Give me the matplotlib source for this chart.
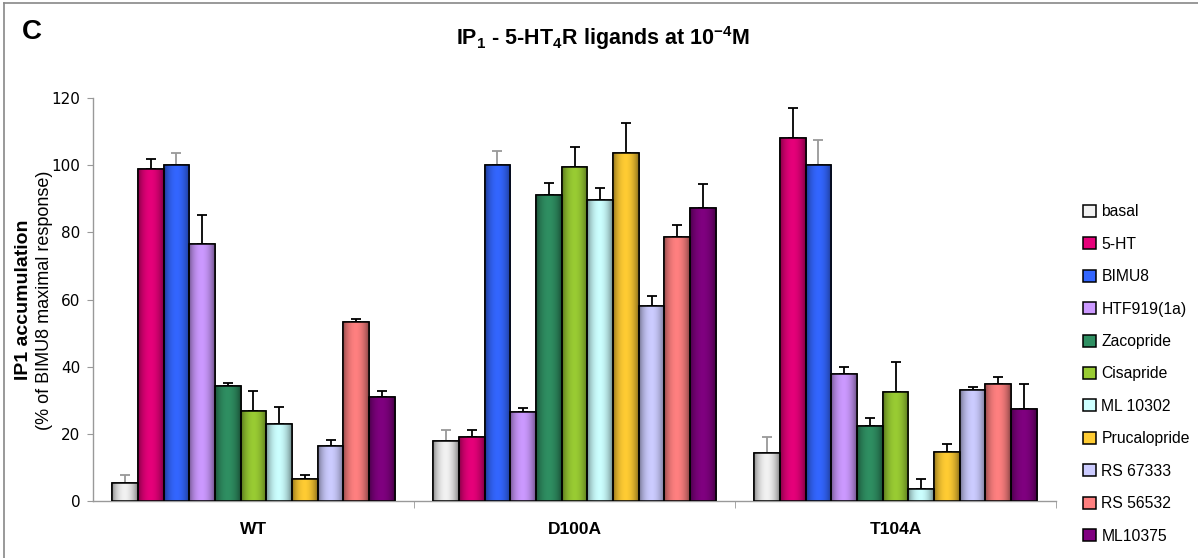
import matplotlib
matplotlib.use("Agg")
import matplotlib.pyplot as plt
import matplotlib.colors as mcolors
from matplotlib.lines import Line2D
import numpy as np

# ==========================================
# ================ DONNÉES =================
# ==========================================
groups = ["WT", "D100A", "T104A"]
ligands = ["basal", "5-HT", "BIMU8", "HTF919(1a)", "Zacopride", "Cisapride",
           "ML 10302", "Prucalopride", "RS 67333", "RS 56532", "ML10375"]
colors = ["#f2f2f2", "#e6007a", "#3366ff", "#cc99ff", "#2f8f62", "#99cc33",
          "#ccffff", "#ffcc33", "#ccccff", "#ff8080", "#800080"]
err_colors = ["#999999", "black", "#999999", "black", "black", "black",
              "black", "black", "black", "black", "black"]

# valeurs par ligand : [WT, D100A, T104A]
values = [
    [5.5, 18.0, 14.5],
    [99.0, 19.2, 108.0],
    [100.0, 100.0, 100.0],
    [76.7, 26.6, 37.9],
    [34.2, 91.1, 22.4],
    [26.8, 99.4, 32.5],
    [23.0, 89.8, 3.6],
    [6.8, 103.5, 14.7],
    [16.6, 58.0, 33.3],
    [53.4, 78.6, 34.9],
    [31.0, 87.3, 27.5],
]
errors = [
    [2.4, 3.2, 4.8],
    [3.0, 2.0, 9.1],
    [3.5, 4.3, 7.4],
    [8.5, 1.2, 2.1],
    [1.0, 3.7, 2.5],
    [6.0, 5.9, 9.0],
    [5.2, 3.5, 3.0],
    [1.1, 9.0, 2.4],
    [1.6, 3.0, 0.7],
    [0.9, 3.7, 2.0],
    [2.0, 7.0, 7.4],
]

# ==========================================
# ================ FIGURE ==================
# ==========================================
plt.rcParams['font.family'] = ['Liberation Sans', 'DejaVu Sans']
plt.rcParams['mathtext.fontset'] = 'custom'
plt.rcParams['mathtext.rm'] = 'Liberation Sans:bold'
plt.rcParams['mathtext.bf'] = 'Liberation Sans:bold'

fig = plt.figure(figsize=(11.98, 5.58), dpi=100)
ax = fig.add_axes([0.0776, 0.1013, 0.8039, 0.7231])

x = np.arange(len(groups))
width = 0.08
n = len(ligands)

# profil d'ombrage horizontal (effet cylindre)
t = np.linspace(0, 1, 64)
shade = 0.45 + 0.55 * np.clip(np.sin(np.pi * (t * 0.95 + 0.02)) ** 0.6, 0, 1)
shade = shade - 0.12 * np.clip(t - 0.5, 0, 1)

for i in range(n):
    pos = x + (i - (n - 1) / 2) * width
    bars = ax.bar(pos, values[i], width, color=colors[i], edgecolor="black",
                  linewidth=1.1, label=ligands[i], zorder=2)
    ax.errorbar(pos, values[i], yerr=[np.zeros(len(groups)), errors[i]],
                fmt="none", ecolor=err_colors[i], elinewidth=1.3,
                capsize=3.8, capthick=1.3, zorder=1)
    base = np.array(mcolors.to_rgb(colors[i]))
    grad = np.clip(base[None, :] * shade[:, None], 0, 1)[None, :, :]
    for b in bars:
        bx, by = b.get_x(), b.get_y()
        im = ax.imshow(grad, extent=[bx, bx + b.get_width(), by, by + b.get_height()],
                       aspect="auto", interpolation="bilinear", zorder=2.5)
        im.set_clip_path(b)
    for b in bars:
        ax.bar(b.get_x(), b.get_height(), b.get_width(), align="edge",
               fill=False, edgecolor="black", linewidth=1.1, zorder=3)

ax.set_xlim(-0.5, 2.5)
ax.set_ylim(0, 120)
ax.set_yticks(np.arange(0, 121, 20))
for lab in ax.get_yticklabels():
    lab.set_family("DejaVu Sans")
ax.tick_params(axis="y", labelsize=11, length=4, color="#999999", pad=5)
ax.set_xticks(x)
ax.set_xticklabels(groups, fontsize=12.5, fontweight="bold")
ax.tick_params(axis="x", length=0, pad=15)
ax.set_xticks([0.5, 1.5, 2.5], minor=True)
ax.tick_params(axis="x", which="minor", length=5, color="#999999")

for side in ["top", "right"]:
    ax.spines[side].set_visible(False)
for side in ["left", "bottom"]:
    ax.spines[side].set_color("#999999")
    ax.spines[side].set_linewidth(1.0)

# étiquettes de l'axe y
fig.text(0.020, 0.462, "IP1 accumulation", rotation=90, ha="center", va="center",
         fontsize=14, fontweight="bold")
fig.text(0.037, 0.462, "(% of BIMU8 maximal response)", rotation=90, ha="center",
         va="center", fontsize=13)

# titres
fig.text(0.503, 0.932, r"IP$_\mathbf{1}$ - 5-HT$_\mathbf{4}$R ligands at 10$^\mathbf{-4}$M",
         ha="center", va="center", fontsize=15.5, fontweight="bold")
fig.text(0.018, 0.942, "C", ha="left", va="center", fontsize=20, fontweight="bold")

# légende
handles, labels = ax.get_legend_handles_labels()
handles = handles[:n]
leg = fig.legend(handles, labels[:n], loc="upper left", bbox_to_anchor=(0.899, 0.645),
                 frameon=False, fontsize=11.3, handlelength=0.8, handleheight=0.8,
                 handletextpad=0.35, labelspacing=1.11, borderaxespad=0)

# cadre gris du panneau
fig.add_artist(Line2D([0.003, 0.003], [0.0, 0.995], color="#888888", lw=1.2,
                      transform=fig.transFigure))
fig.add_artist(Line2D([0.003, 1.0], [0.995, 0.995], color="#888888", lw=1.2,
                      transform=fig.transFigure))

fig.savefig("out.png", dpi=100)
